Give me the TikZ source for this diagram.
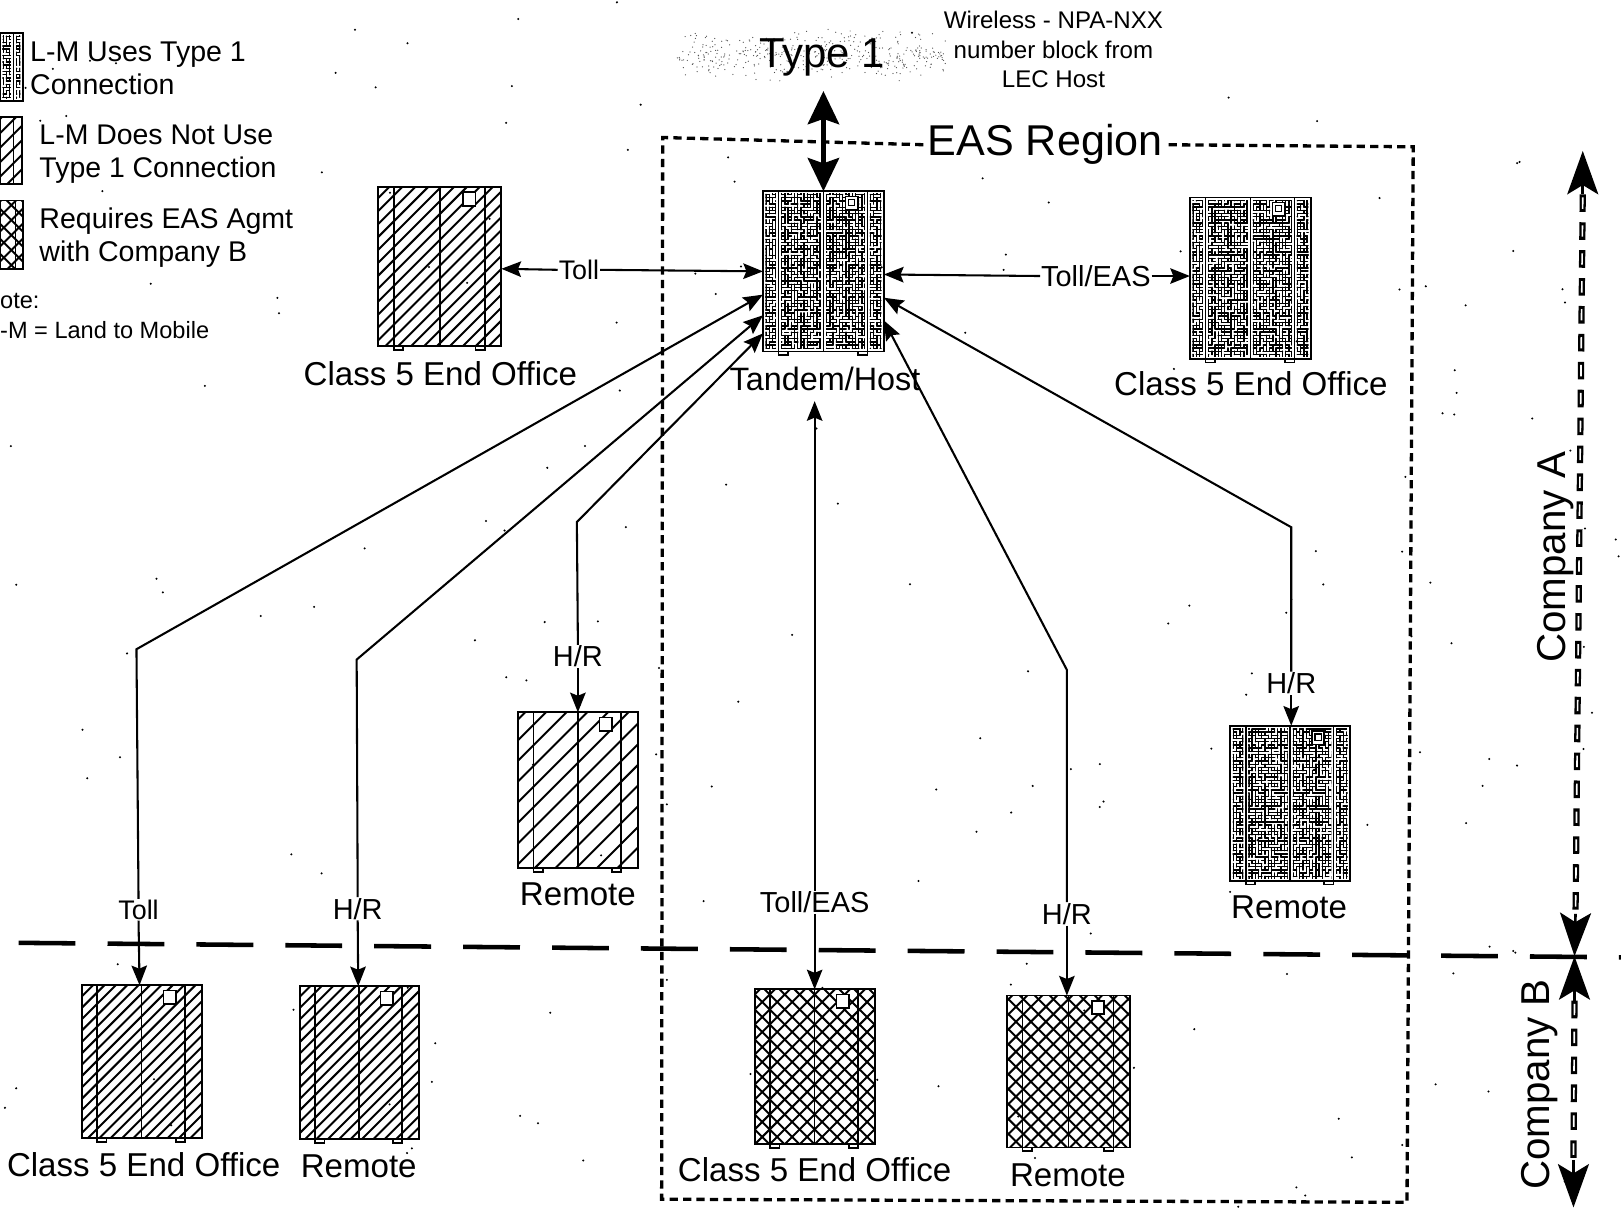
\documentclass[tikz,border=0pt]{standalone}
\usepackage{fontspec}
\setmainfont{Liberation Sans}
\usetikzlibrary{arrows.meta}
\newcommand\fsz[2]{\fontsize{#1}{#2}\selectfont}
\tikzset{
  x=1pt,y=-1pt,
  cabinet/.style={draw=black,line width=1.8pt,inner sep=0pt,outer sep=0pt},
  cabline/.style={draw=black,line width=1.6pt},
  mz/.style={black,line width=1.3pt,line cap=round},
  hatchline/.style={black,line width=1.9pt},
  conn/.style={black,line width=2pt,-{Stealth[length=19pt,width=15pt,inset=3pt]}},
  regionline/.style={black,line width=3.2pt,dash pattern=on 8pt off 5pt},
  border/.style={black,line width=4.4pt,dash pattern=on 55pt off 31pt},
  axisline/.style={black,line width=6pt,dash pattern=on 17pt off 10pt},
  axiscore/.style={white,line width=1.6pt,dash pattern=on 11pt off 16pt,dash phase=-3pt},
  axishead/.style={black,line width=2.5pt,-{Stealth[length=42pt,width=30pt,inset=9pt]}},
  lab/.style={inner sep=1pt,outer sep=0pt,font=\fsz{28}{30}},
  captiontext/.style={inner sep=0pt,font=\fsz{32}{34}},
}
% maze-filled panel
\newcommand\mazepanel[4]{%
  \begin{scope}
    \clip ({#1+2.5},{#2+2.5}) rectangle ({#3-2.5},{#4-2.5});
    \pgfmathtruncatemacro\mznx{((#3)-(#1))/3.1}
    \pgfmathtruncatemacro\mzny{((#4)-(#2))/3.1}
    \foreach \mi in {0,...,\mznx}{\foreach \mj in {0,...,\mzny}{\foreach \mk in {1,2}{%
      \pgfmathrandominteger{\mzr}{0}{3}%
      \ifcase\mzr\relax
        \draw[mz] ({#1+\mi*3.1},{#2+\mj*3.1}) -- ++(3.1,0);
      \or
        \draw[mz] ({#1+\mi*3.1},{#2+\mj*3.1}) -- ++(0,3.1);
      \or
        \draw[mz] ({#1+\mi*3.1},{#2+\mj*3.1}) -- ++(-3.1,0);
      \or
        \draw[mz] ({#1+\mi*3.1},{#2+\mj*3.1}) -- ++(0,-3.1);
      \fi
    }}}
  \end{scope}}
% diagonal hatch: x0 y0 x1 y1 spacing
\newcommand\hatchfill[5]{%
  \begin{scope}
    \clip (#1,#2) rectangle (#3,#4);
    \pgfmathtruncatemacro\hn{(#3-#1+#4-#2)/#5}
    \foreach \hk in {0,...,\hn}{%
      \draw[hatchline] (#3-\hk*#5,#4) -- ++(180,-180);
    }
  \end{scope}}
\newcommand\crossfill[5]{%
  \hatchfill{#1}{#2}{#3}{#4}{#5}%
  \begin{scope}
    \clip (#1,#2) rectangle (#3,#4);
    \pgfmathtruncatemacro\hn{(#3-#1+#4-#2)/#5}
    \foreach \hk in {0,...,\hn}{%
      \draw[hatchline] (#1+\hk*#5,#4) -- ++(-180,-180);
    }
  \end{scope}}
% cabinet frame: name x0 y0 x1 y1
\newcommand\cabframe[5]{%
  \pgfmathsetmacro\cbw{#4-#2}
  \pgfmathsetmacro\cbh{#5-#3}
  \pgfmathsetmacro\cbcx{(#2+#4)/2}
  \pgfmathsetmacro\cbcy{(#3+#5)/2}
  \node[cabinet,minimum width=\cbw pt,minimum height=\cbh pt] (#1) at (\cbcx,\cbcy) {};
  \draw[cabline] (#2+15,#3) -- (#2+15,#5);
  \draw[cabline] (\cbcx,#3) -- (\cbcx,#5);
  \draw[cabline] (#4-16,#3) -- (#4-16,#5);
  \draw[cabline] (#2+15,#5) rectangle ++(9,3.5);
  \draw[cabline] (#4-16,#5) rectangle ++(-9,3.5);
  \draw[cabline,fill=white] (#4-37,#3+5) rectangle (#4-25,#3+18);
}
\newcommand\mazecab[5]{%
  \pgfmathsetmacro\mcx{(#2+#4)/2}
  \mazepanel{#2}{#3}{#2+15}{#5}
  \mazepanel{#2+15}{#3}{\mcx}{#5}
  \mazepanel{\mcx}{#3}{#4-16}{#5}
  \mazepanel{#4-16}{#3}{#4}{#5}
  \cabframe{#1}{#2}{#3}{#4}{#5}
  \draw[cabline,line width=1pt] (#4-34,#3+8) rectangle (#4-28,#3+14);
}
\newcommand\hatchcab[6]{%
  \hatchfill{#2}{#3}{#4}{#5}{#6}
  \cabframe{#1}{#2}{#3}{#4}{#5}
}
\newcommand\crosscab[6]{%
  \crossfill{#2}{#3}{#4}{#5}{#6}
  \cabframe{#1}{#2}{#3}{#4}{#5}
}
\begin{document}
\begin{tikzpicture}
\useasboundingbox (0,0) rectangle (1568,1168.5);
\fill[white] (0,0) rectangle (1568,1168.5);
\pgfmathsetseed{4711}
% scan specks
\foreach \sn in {1,...,190}{%
  \pgfmathsetmacro\sxx{rnd*1568}
  \pgfmathsetmacro\syy{rnd*1168}
  \fill[black] (\sxx,\syy) circle (1.1);
}
\foreach \sn in {1,...,420}{%
  \pgfmathsetmacro\sxx{655+rnd*260}
  \pgfmathsetmacro\syy{53+(rnd+rnd-1)*26}
  \fill[black!70] (\sxx,\syy) circle (0.6);
}
% borders and regions
\coordinate (bl) at (18,912);
\coordinate (br) at (1568,926);
\draw[border] (bl) -- (br);
\node[inner sep=4pt,font=\fsz{41.7}{44}] (eas) at (1011,140) {EAS Region};
\coordinate (c1) at (641,133);
\coordinate (c2) at (1367,142);
\coordinate (c3) at (1361,1163);
\coordinate (c4) at (640,1160);
\draw[regionline] (eas.west) -- (c1) -- (c4) -- (c3) -- (c2) -- (eas.east);
% axis
\coordinate (atop) at (1531,146);
\coordinate (atopb) at (1531,188);
\coordinate (amid) at (1523,925);
\coordinate (amidt) at (1524,884);
\coordinate (amidb) at (1523,968);
\coordinate (abot) at (1522,1168);
\coordinate (abotb) at (1522,1122);
\draw[axisline] (atopb) -- (amidt);
\draw[axiscore] (atopb) -- (amidt);
\draw[axisline] (amidb) -- (abotb);
\draw[axiscore] (amidb) -- (abotb);
\draw[axishead] (atopb) -- (atop);
\draw[axishead] (amidt) -- (amid);
\draw[axishead] (amidb) -- (amid);
\draw[axishead] (abotb) -- (abot);
\node[rotate=90,inner sep=0pt,font=\fsz{39}{41}] (compa) at (1505,539) {Company A};
\node[rotate=90,inner sep=0pt,font=\fsz{39}{41}] (compb) at (1489,1049) {Company B};
% cabinets
\mazecab{tandem}{738}{185}{855}{340}
\mazecab{eastoffice}{1151}{191}{1268}{347}
\mazecab{eastremote}{1190}{702}{1306}{852}
\hatchcab{westoffice}{366}{181}{485}{335}{12.5}
\hatchcab{midremote}{501}{689}{617}{840}{20}
\hatchcab{swoffice}{79}{953}{195}{1101}{11}
\hatchcab{swremote}{290}{954}{405}{1102}{11}
\crosscab{soffice}{730}{957}{846}{1107}{14.5}
\crosscab{sremote}{974}{963}{1093}{1110}{14.5}
% legend swatches
\mazepanel{0}{32}{13}{98}
\mazepanel{13}{32}{22}{98}
\node[cabinet,minimum width=22pt,minimum height=66pt] (sw1) at (11,65) {};
\draw[cabline] (13,32) -- (13,98);
\hatchfill{0}{113}{21}{178}{14}
\node[cabinet,minimum width=21pt,minimum height=65pt] (sw2) at (10.5,145.5) {};
\draw[cabline] (13,113) -- (13,178);
\crossfill{0}{194}{22}{260}{14.5}
\node[cabinet,minimum width=22pt,minimum height=66pt] (sw3) at (11,227) {};
\draw[cabline] (15,194) -- (15,260);
% legend text
\node[anchor=west,align=left,inner sep=0pt,font=\fsz{27.6}{32}] (leg1) at (29,66) {L-M Uses Type 1\\Connection};
\node[anchor=west,align=left,inner sep=0pt,font=\fsz{27.5}{32}] (leg2) at (38,149) {L-M Does Not Use\\Type 1 Connection};
\node[anchor=west,align=left,inner sep=0pt,font=\fsz{27.6}{32}] (leg3) at (38,230) {Requires EAS Agmt\\with Company B};
\node[anchor=west,inner sep=0pt,font=\fsz{22.8}{26}] (leg4) at (0,291) {ote:};
\node[anchor=west,inner sep=0pt,font=\fsz{22.8}{26}] (leg5) at (0,319) {-M = Land to Mobile};
% top labels
\node[inner sep=0pt,font=\fsz{40.5}{44}] (typeone) at (795,56) {Type 1};
\node[align=center,inner sep=0pt,font=\fsz{23.3}{28.5}] (wireless) at (1019,48) {Wireless - NPA-NXX\\number block from\\LEC Host};
% cabinet captions
\node[captiontext] (cwestoffice) at (426,361) {Class 5 End Office};
\node[captiontext,font=\fsz{31.3}{34}] (ctandem) at (798,367) {Tandem/Host};
\node[captiontext] (ceastoffice) at (1210,371) {Class 5 End Office};
\node[captiontext] (cmidremote) at (559,865) {Remote};
\node[captiontext] (ceastremote) at (1247,878) {Remote};
\node[captiontext] (cswoffice) at (139,1127) {Class 5 End Office};
\node[captiontext] (cswremote) at (347,1128) {Remote};
\node[captiontext] (csoffice) at (788,1131) {Class 5 End Office};
\node[captiontext] (csremote) at (1033,1137) {Remote};
% connector labels
\node[lab,font=\fsz{26}{28}] (ltoll) at (560,261) {Toll};
\node[lab] (ltolleas) at (1060,267) {Toll/EAS};
\node[lab,font=\fsz{26}{28}] (lswtoll) at (134,880) {Toll};
\node[lab] (lswhr) at (346,879) {H/R};
\node[lab] (lmidhr) at (559,635) {H/R};
\node[lab] (lstolleas) at (788,873) {Toll/EAS};
\node[lab] (lshr) at (1032,884) {H/R};
\node[lab] (leasthr) at (1249,661) {H/R};
% elbows
\coordinate (e1) at (132,628);
\coordinate (e2) at (345,638);
\coordinate (e3) at (558,505);
\coordinate (e4) at (1032,648);
\coordinate (e5) at (1249,510);
\coordinate (te) at (788,388);
\coordinate (t1) at (796.5,88);
% connectors
\draw[black,line width=5.5pt,{Stealth[length=32pt,width=30pt,inset=5pt]}-{Stealth[length=32pt,width=30pt,inset=5pt]}] (t1) -- (tandem.north);
\draw[conn] (ltoll.west) -- ([yshift=-2pt]westoffice.east);
\draw[conn] (ltoll.east) -- (tandem.west);
\draw[conn] (ltolleas.west) -- ([yshift=-3pt]tandem.east);
\draw[conn] (ltolleas.east) -- ([yshift=2pt]eastoffice.west);
\draw[conn] (lswtoll.north) -- (e1) -- ([yshift=-22.5pt]tandem.west);
\draw[conn] (lswtoll.south) -- ([xshift=-2pt]swoffice.north);
\draw[conn] (lswhr.north) -- (e2) -- ([yshift=-42.5pt]tandem.west);
\draw[conn] (lswhr.south) -- ([xshift=-1pt]swremote.north);
\draw[conn] (lmidhr.north) -- (e3) -- ([yshift=-60pt]tandem.west);
\draw[conn] (lmidhr.south) -- (midremote.north);
\draw[conn] (lstolleas.north) -- (te);
\draw[conn] (lstolleas.south) -- (soffice.north);
\draw[conn] (lshr.north) -- (e4) -- ([yshift=-47.5pt]tandem.east);
\draw[conn] (lshr.south) -- ([xshift=-1.5pt]sremote.north);
\draw[conn] (leasthr.north) -- (e5) -- ([yshift=-25.5pt]tandem.east);
\draw[conn] (leasthr.south) -- ([xshift=1pt]eastremote.north);
\end{tikzpicture}
\end{document}
